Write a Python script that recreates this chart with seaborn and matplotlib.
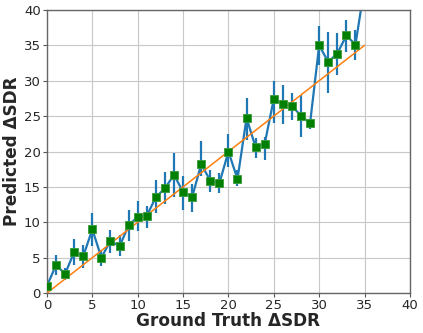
import matplotlib
matplotlib.use("Agg")
import matplotlib.pyplot as plt
import seaborn as sns
import numpy as np
import pandas as pd

ground_truth = list(range(36))
predicted = [1.0, 3.95, 2.7, 5.8, 5.2, 9.0, 5.0, 7.4, 6.6, 9.55,
             10.8, 10.9, 13.55, 14.8, 16.7, 14.3, 13.55, 18.2, 15.9, 15.5,
             20.0, 16.1, 24.76, 20.57, 21.1, 27.44, 26.74, 26.45, 25.04, 24.0,
             35.0, 32.67, 33.85, 36.4, 35.1, 43.3]
err_top = [1.4, 5.41, 3.53, 7.62, 6.73, 11.3, 6.12, 8.94, 8.24, 11.67,
           12.94, 12.35, 15.91, 17.04, 19.76, 16.47, 15.39, 21.5, 17.41, 16.94,
           22.5, 17.4, 27.5, 21.9, 22.1, 29.9, 29.4, 28.2, 28.0, 24.6,
           37.75, 36.9, 36.7, 38.6, 37.2, 46.0]
err_bottom = [0.6, 2.59, 1.88, 4.0, 3.53, 6.59, 3.76, 5.65, 5.18, 7.29,
              8.71, 9.18, 11.29, 12.56, 13.55, 11.76, 11.44, 16.5, 14.21, 14.12,
              17.8, 15.06, 21.65, 19.1, 18.8, 24.1, 23.9, 24.5, 22.0, 23.2,
              32.25, 28.2, 30.8, 34.1, 33.0, 41.0]
ideal_x = [0, 35]
ideal_y = [0, 35]
ticks = [0, 5, 10, 15, 20, 25, 30, 35, 40]

df = pd.DataFrame({"gt": ground_truth, "pred": predicted,
                   "lo": err_bottom, "hi": err_top})
ideal = pd.DataFrame({"x": ideal_x, "y": ideal_y})

sns.set_style("white")
plt.rcParams['font.family'] = ['DejaVu Sans']

fig = plt.figure(figsize=(4.23, 3.33), dpi=100)
ax = fig.add_axes([0.111, 0.120, 0.858, 0.850])

ax.grid(True, color='#c8c8c8', linewidth=0.8, zorder=0)
ax.set_axisbelow(True)

ax.vlines(df["gt"], df["lo"], df["hi"], color='#1f77b4', linewidth=1.6, zorder=2)
sns.lineplot(data=df, x="gt", y="pred", ax=ax, color='#1f77b4', linewidth=1.6,
             zorder=2, legend=False)
sns.lineplot(data=ideal, x="x", y="y", ax=ax, color='#ff7f0e', linewidth=1.1,
             zorder=3, legend=False)
sns.scatterplot(data=df, x="gt", y="pred", ax=ax, marker='s', s=28,
                color='green', edgecolor='#3a9a3a', linewidth=0.6, zorder=4,
                legend=False, clip_on=True)

ax.set_xlim(0, 40)
ax.set_ylim(0, 40)
ax.set_xticks(ticks)
ax.set_yticks(ticks)
ax.tick_params(axis='both', labelsize=9.5, length=3, width=0.8, color='#555555',
               direction='out', bottom=True, left=True, pad=1.5)
for s in ax.spines.values():
    s.set_color('#666666')
    s.set_linewidth(1.0)

ax.set_xlabel("Ground Truth ΔSDR", fontsize=12.2, fontweight='bold')
ax.set_ylabel("Predicted ΔSDR", fontsize=12.2, fontweight='bold')
ax.xaxis.set_label_coords(0.5, -0.066)
ax.yaxis.set_label_coords(-0.072, 0.5)

fig.savefig("out.png", dpi=100)
